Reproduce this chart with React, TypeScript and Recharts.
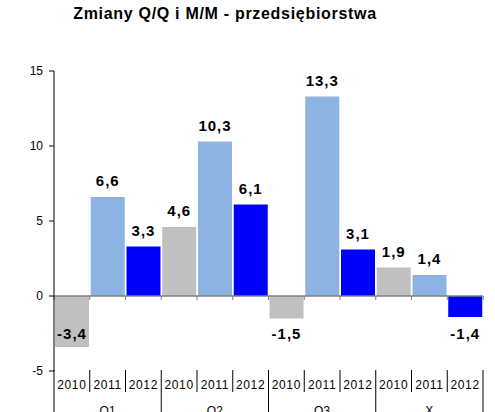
import React from 'react';
import { BarChart, Bar, XAxis, YAxis, ReferenceLine, LabelList, Cell } from 'recharts';

const groups = ['Q1', 'Q2', 'Q3', 'X'];
const years = ['2010', '2011', '2012'];
const values = [-3.4, 6.6, 3.3, 4.6, 10.3, 6.1, -1.5, 13.3, 3.1, 1.9, 1.4, -1.4];
const yearColors = ['#C0C0C0', '#8DB3E2', '#0000FF'];
const yTicks = [-5, 0, 5, 10, 15];
const title = 'Zmiany Q/Q i M/M - przedsiębiorstwa';

const data = groups.flatMap((g, gi) =>
  years.map((yr, yi) => ({ key: `${g}-${yr}`, group: g, year: yr, yi, value: values[gi * 3 + yi] }))
);

const W = 495;
const H = 412;
const margin = { top: 71, right: 12, bottom: 1, left: 4 };
const Y_W = 50;
const BAND = (W - margin.left - Y_W - margin.right) / data.length;
const GAP = 1;

const fmt = (v: number) => v.toFixed(1).replace('.', ',');

const XTick = (props: any) => {
  const { x, y, payload } = props;
  const i = props.index ?? payload.index;
  const d = data[i];
  if (!d) return null;
  const half = BAND / 2;
  const groupEnd = d.yi === 2;
  return (
    <g>
      {i === 0 && <line x1={x - half} x2={x - half} y1={y - 1} y2={H} stroke="#000" />}
      <line x1={x + half} x2={x + half} y1={y - 1} y2={groupEnd ? H : y + 21} stroke="#000" />
      <text x={x} y={y + 18} textAnchor="middle" fontSize={12} letterSpacing={0.6} fill="#000">
        {d.year}
      </text>
      {d.yi === 1 && (
        <text x={x} y={y + 44} textAnchor="middle" fontSize={12} fill="#000">
          {d.group}
        </text>
      )}
    </g>
  );
};

const BarShape = (props: any) => {
  const { x, y, width, height, fill, index, payload } = props;
  const top = Math.min(y, y + height);
  const h = Math.abs(height);
  const zero = payload.value >= 0 ? top + h : top;
  const left = x - GAP;
  const right = x + width + GAP;
  return (
    <g>
      <rect x={x} y={top} width={width} height={h} fill={fill} />
      <line x1={left} x2={left} y1={zero} y2={zero + 4} stroke="#808080" />
      {index === data.length - 1 && <line x1={right} x2={right} y1={zero} y2={zero + 4} stroke="#808080" />}
    </g>
  );
};

const ValueLabel = (props: any) => {
  const { x, y, width, height, value } = props;
  const top = Math.min(y, y + height);
  const cx = x + width / 2;
  const cy = value >= 0 ? top - 16 : top + 38;
  return (
    <text x={cx} y={cy + 5.4} textAnchor="middle" fontSize={15} fontWeight="bold" fill="#000" letterSpacing={1}>
      {fmt(value)}
    </text>
  );
};

export default function App() {
  return (
    <div
      style={{
        position: 'absolute',
        left: 0,
        top: 0,
        width: W,
        height: H,
        background: '#fff',
        fontFamily: '"Liberation Sans", Arial, sans-serif',
      }}
    >
      <div
        style={{
          position: 'absolute',
          left: 0,
          top: 6,
          width: 450,
          textAlign: 'center',
          fontSize: 16,
          fontWeight: 'bold',
          letterSpacing: 0.7,
          lineHeight: '16px',
          color: '#000',
        }}
      >
        {title}
      </div>
      <BarChart width={W} height={H} data={data} margin={margin} barCategoryGap={GAP}>
        <XAxis
          dataKey="key"
          axisLine={false}
          tickLine={false}
          tickSize={0}
          tickMargin={0}
          height={40}
          interval={0}
          tick={<XTick />}
        />
        <YAxis
          width={Y_W}
          domain={[-5, 15]}
          ticks={yTicks}
          interval={0}
          allowDataOverflow
          axisLine={{ stroke: '#000' }}
          tickLine={{ stroke: '#000' }}
          tickSize={5}
          tickMargin={6}
          tick={{ fontSize: 12, fill: '#000' }}
        />
        <Bar dataKey="value" isAnimationActive={false} shape={<BarShape />}>
          {data.map((d) => (
            <Cell key={d.key} fill={yearColors[d.yi]} />
          ))}
          <LabelList dataKey="value" content={<ValueLabel />} />
        </Bar>
        <ReferenceLine y={0} stroke="#808080" strokeWidth={1.5} />
      </BarChart>
    </div>
  );
}
